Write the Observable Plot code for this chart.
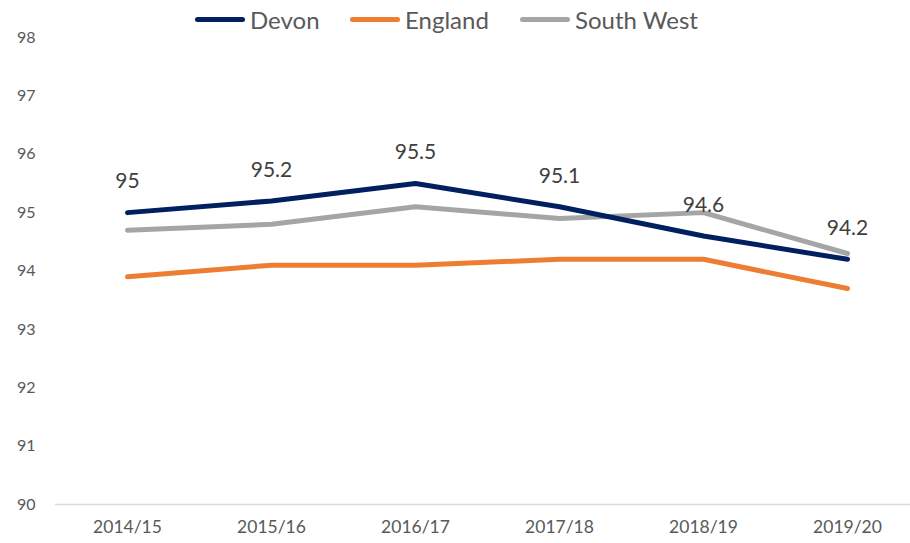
<!DOCTYPE html>
<html><head><meta charset="utf-8">
<script src="https://cdn.jsdelivr.net/npm/d3@7"></script>
<script src="https://cdn.jsdelivr.net/npm/@observablehq/plot@0.6"></script>
<style>
body{margin:0;background:#fff;font-family:Lato,"Open Sans",sans-serif;}
#wrap{position:relative;width:910px;height:543px;}
#legend{position:absolute;top:5px;left:0;width:910px;height:32px;font-size:24px;color:#595959;}
#legend span{position:absolute;top:0;display:flex;align-items:center;white-space:nowrap;}
#legend i{display:inline-block;width:50px;height:5px;border-radius:3px;margin-right:5px;}
</style></head>
<body><div id="wrap"><div id="legend"></div></div>
<script>
const years = ["2014/15","2015/16","2016/17","2017/18","2018/19","2019/20"];
const devon = [95, 95.2, 95.5, 95.1, 94.6, 94.2];
const england = [93.9, 94.1, 94.1, 94.2, 94.2, 93.7];
const southWest = [94.7, 94.8, 95.1, 94.9, 95.0, 94.3];
const seriesNames = ["Devon","England","South West"];
const colors = ["#002060","#ED7D31","#A5A5A5"];
const yTicks = [90,91,92,93,94,95,96,97,98];

const rows = [];
[devon, england, southWest].forEach((vals, i) =>
  vals.forEach((v, j) => rows.push({series: seriesNames[i], year: years[j], value: v})));
const drawOrder = ["England","South West","Devon"];
const devonRows = rows.filter(d => d.series === "Devon");

const chart = Plot.plot({
  width: 910, height: 543,
  marginTop: 37, marginBottom: 39, marginLeft: 55, marginRight: 0,
  style: {fontFamily: "Lato, 'Open Sans', sans-serif", background: "#fff"},
  x: {type: "point", domain: years, range: [125, 848], padding: 0, label: null},
  y: {domain: [90, 98], label: null},
  color: {domain: seriesNames, range: colors},
  marks: [
    Plot.ruleY([90], {stroke: "#d9d9d9", strokeWidth: 1.5}),
    Plot.axisY({ticks: yTicks, tickSize: 0, tickPadding: 20, fontSize: 16, color: "#595959", label: null}),
    Plot.axisX({tickSize: 0, tickPadding: 16, fontSize: 17.5, color: "#595959", label: null}),
    ...drawOrder.map(s => Plot.line(rows.filter(d => d.series === s), {x: "year", y: "value", stroke: colors[seriesNames.indexOf(s)], strokeWidth: 5, strokeLinecap: "round", strokeLinejoin: "round"})),
    Plot.text(devonRows, {x: "year", y: "value", text: d => String(d.value), dy: -31, fontSize: 21, fill: "#404040"})
  ]
});
document.getElementById("wrap").appendChild(chart);
chart.style.position = "absolute"; chart.style.top = "0"; chart.style.left = "0";

const leg = document.getElementById("legend");
const legX = [195, 350, 520];
seriesNames.forEach((s, i) => {
  const sp = document.createElement("span");
  sp.style.left = legX[i] + "px";
  sp.innerHTML = `<i style="background:${colors[i]}"></i>${s}`;
  leg.appendChild(sp);
});
document.getElementById("wrap").appendChild(leg);
</script></body></html>
